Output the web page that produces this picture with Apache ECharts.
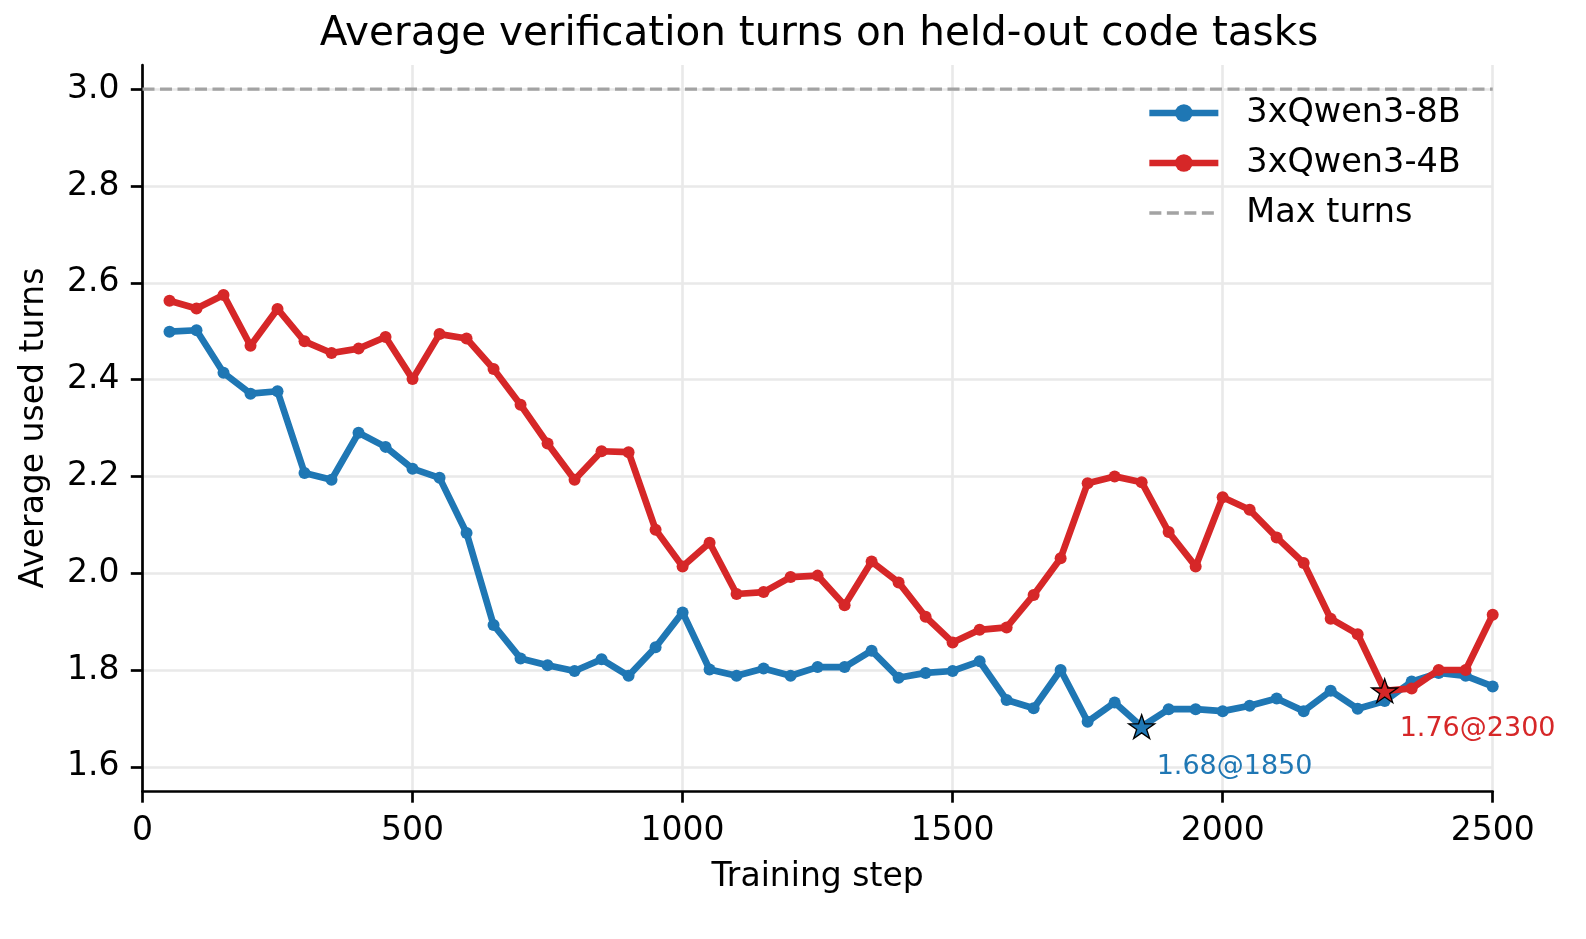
<!DOCTYPE html>
<html>
<head>
<meta charset="utf-8">
<script src="https://cdn.jsdelivr.net/npm/echarts@6/dist/echarts.min.js"></script>
<style>
html,body{margin:0;padding:0;background:#fff;}
#chart{width:1586px;height:939px;}
</style>
</head>
<body>
<div id="chart"></div>
<script>
const steps = [50,100,150,200,250,300,350,400,450,500,550,600,650,700,750,800,850,900,950,1000,
  1050,1100,1150,1200,1250,1300,1350,1400,1450,1500,1550,1600,1650,1700,1750,1800,1850,1900,1950,2000,
  2050,2100,2150,2200,2250,2300,2350,2400,2450,2500];
const qwen8b = [2.499,2.502,2.414,2.371,2.376,2.207,2.193,2.290,2.261,2.216,2.197,2.083,1.893,1.824,1.810,
  1.798,1.822,1.788,1.847,1.919,1.801,1.788,1.803,1.788,1.806,1.806,1.840,1.784,1.794,1.798,1.818,1.738,
  1.721,1.800,1.693,1.733,1.683,1.719,1.719,1.715,1.726,1.741,1.715,1.757,1.720,1.736,1.776,1.794,1.788,1.766];
const qwen4b = [2.563,2.547,2.575,2.470,2.546,2.479,2.455,2.464,2.488,2.401,2.494,2.485,2.422,2.348,2.268,
  2.193,2.252,2.250,2.090,2.014,2.063,1.957,1.961,1.992,1.995,1.934,2.024,1.981,1.910,1.857,1.883,1.888,
  1.955,2.031,2.186,2.200,2.188,2.085,2.014,2.157,2.131,2.074,2.021,1.906,1.874,1.757,1.762,1.800,1.800,1.914];
const maxTurnsX = [0, 2500];
const maxTurnsY = [3.0, 3.0];
const xTicks = [0, 500, 1000, 1500, 2000, 2500];
const yTicks = [1.6, 1.8, 2.0, 2.2, 2.4, 2.6, 2.8, 3.0];
const seriesNames = ['3xQwen3-8B', '3xQwen3-4B', 'Max turns'];

const BLUE = '#1f77b4', RED = '#d62728';
const FONT = 'DejaVu Sans';

function pairs(xs, ys) { return xs.map((x, i) => [x, ys[i]]); }
function argmin(arr) { let k = 0; arr.forEach((v, i) => { if (v < arr[k]) k = i; }); return k; }
const b8 = argmin(qwen8b), b4 = argmin(qwen4b);

const STAR = 'path://M50 0 L61.23 34.55 L97.55 34.55 L68.17 55.90 L79.39 90.45 L50 69.1 L20.61 90.45 L31.83 55.90 L2.45 34.55 L38.77 34.55 Z';

function starSeries(name, color, step, val, dx, dy) {
  return {
    type: 'scatter', name: name + ' best', z: 10,
    symbol: STAR, symbolSize: [26, 25], symbolKeepAspect: true,
    itemStyle: { color: color, borderColor: '#000', borderWidth: 1.3, opacity: 1 },
    data: [[step, val]],
    label: {
      show: true, position: 'inside', align: 'left', verticalAlign: 'middle',
      offset: [dx, dy], color: color, fontFamily: FONT, fontSize: 27, opacity: 1,
      textBorderWidth: 0, textBorderColor: 'transparent', textShadowBlur: 0,
      formatter: () => val.toFixed(2) + '@' + step
    },
    silent: true
  };
}

const chart = echarts.init(document.getElementById('chart'), null, { renderer: 'canvas' });
chart.setOption({
  animation: false,
  backgroundColor: '#fff',
  textStyle: { fontFamily: FONT },
  title: {
    text: 'Average verification turns on held-out code tasks',
    left: 814, top: 9, textAlign: 'center',
    textStyle: { fontFamily: FONT, fontSize: 40.5, fontWeight: 'normal', color: '#000' }
  },
  grid: { left: 142.5, right: 93.3, top: 65, bottom: 148, containLabel: false },
  legend: {
    orient: 'vertical', left: 1141, top: 90,
    itemWidth: 69, itemHeight: 22, itemGap: 14,
    textStyle: { fontFamily: FONT, fontSize: 33.5, color: '#000', lineHeight: 36, padding: [0, 0, 0, 23] },
    data: [
      { name: seriesNames[0], lineStyle: { width: 6.7 } },
      { name: seriesNames[1], lineStyle: { width: 6.7 } },
      { name: seriesNames[2], lineStyle: { width: 3.3 }, itemStyle: { opacity: 0 } }
    ],
    selectedMode: false
  },
  xAxis: {
    type: 'value', min: 0, max: 2500, interval: 500,
    name: 'Training step', nameLocation: 'middle', nameGap: 68,
    nameTextStyle: { fontFamily: FONT, fontSize: 33, color: '#000', lineHeight: 36 },
    axisLine: { show: true, onZero: false, lineStyle: { color: '#000', width: 2.7 } },
    axisTick: { show: true, length: 11.7, lineStyle: { color: '#000', width: 2.7 } },
    axisLabel: { fontFamily: FONT, fontSize: 33, color: '#000', margin: 24,
      formatter: v => String(v) },
    splitLine: { show: true, lineStyle: { color: '#e9e9e9', width: 2.6 } }
  },
  yAxis: {
    type: 'value', min: 1.55, max: 3.05,
    name: 'Average used turns', nameLocation: 'middle', nameGap: 92, nameRotate: 90,
    nameTextStyle: { fontFamily: FONT, fontSize: 33, color: '#000' },
    axisLine: { show: true, onZero: false, lineStyle: { color: '#000', width: 2.7 } },
    axisTick: { show: true, length: 11.7, customValues: yTicks, lineStyle: { color: '#000', width: 2.7 } },
    axisLabel: { fontFamily: FONT, fontSize: 33, color: '#000', margin: 23, customValues: yTicks,
      formatter: v => v.toFixed(1) },
    splitLine: { show: true, lineStyle: { color: '#e9e9e9', width: 2.6 } }
  },
  series: [
    {
      type: 'line', name: seriesNames[2], data: pairs(maxTurnsX, maxTurnsY),
      symbol: 'none', z: 2,
      lineStyle: { color: '#a3a3a3', width: 3.3, type: [12, 5.5] },
      itemStyle: { color: '#a3a3a3' }, silent: true
    },
    {
      type: 'line', name: seriesNames[0], data: pairs(steps, qwen8b), z: 3,
      symbol: 'circle', symbolSize: 12, showAllSymbol: true,
      lineStyle: { color: BLUE, width: 6.7 }, itemStyle: { color: BLUE }, silent: true
    },
    {
      type: 'line', name: seriesNames[1], data: pairs(steps, qwen4b), z: 4,
      symbol: 'circle', symbolSize: 12, showAllSymbol: true,
      lineStyle: { color: RED, width: 6.7 }, itemStyle: { color: RED }, silent: true
    },
    starSeries(seriesNames[0], BLUE, steps[b8], qwen8b[b8], 15, 40),
    starSeries(seriesNames[1], RED, steps[b4], qwen4b[b4], 15, 38)
  ]
});
</script>
</body>
</html>
